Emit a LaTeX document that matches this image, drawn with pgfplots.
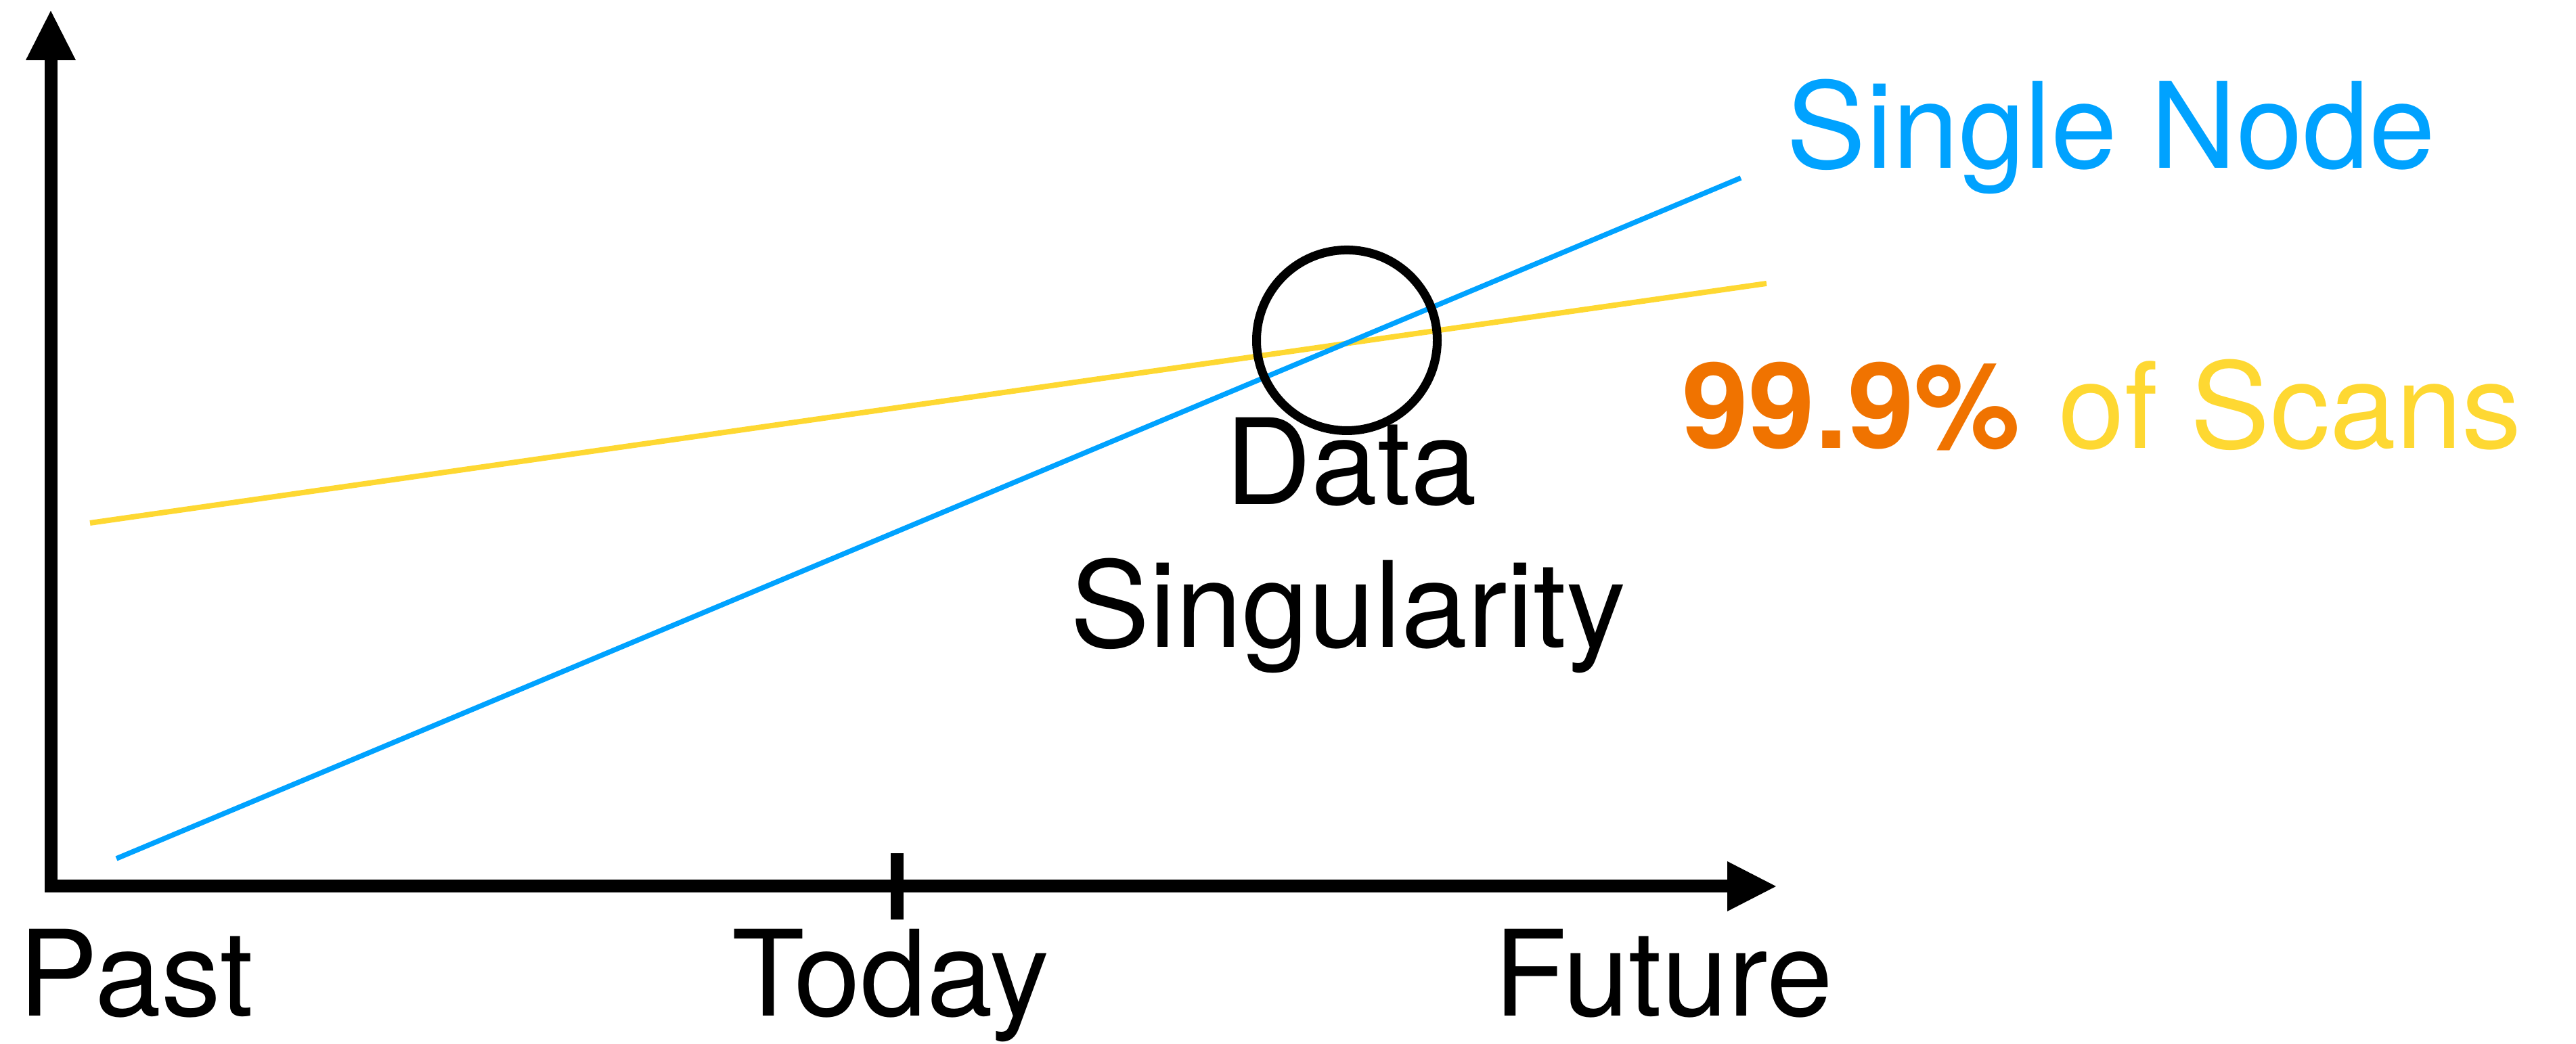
\documentclass[border=0pt]{standalone}
\usepackage{pgfplots}
\pgfplotsset{compat=1.18}
\usepackage{fontspec}
\setmainfont{TeX Gyre Heros}
\definecolor{nodeblue}{RGB}{0,162,255}
\definecolor{scanyellow}{RGB}{254,216,50}
\definecolor{scanorange}{RGB}{240,115,0}
\begin{document}
\begin{tikzpicture}[lbl/.style={font=\fontsize{17.6pt}{21.1pt}\selectfont, inner sep=0pt, anchor=base}]
\begin{axis}[
  width=380.6pt, height=154.3pt, scale only axis,
  xmin=0, xmax=3806, ymin=0, ymax=1543,
  hide axis, clip=false,
]
\path (axis cs:0,0) rectangle (axis cs:3806,1543);
% axes
\draw[line width=1.9pt, line join=miter] (axis cs:75,1454) -- (axis cs:75,233) -- (axis cs:2552,233);
\fill (axis cs:38,1454) -- (axis cs:112,1454) -- (axis cs:75,1527) -- cycle;
\fill (axis cs:2552,270) -- (axis cs:2552,196) -- (axis cs:2624,233) -- cycle;
\draw[line width=1.9pt] (axis cs:1325,184) -- (axis cs:1325,282);
% series
\addplot[color=scanyellow, line width=0.8pt, line cap=butt] coordinates {(133,770) (2610,1124)};
\addplot[color=nodeblue, line width=0.75pt, line cap=butt] coordinates {(172,274) (2572,1280)};
% circle
\draw[line width=1.3pt] (axis cs:1990,1040) circle[radius=13.35pt];
% labels
\node[lbl] at (axis cs:201,41) {Past};
\node[lbl] at (axis cs:1316,41) {Today};
\node[lbl] at (axis cs:2458,41) {Future};
\node[lbl, text=nodeblue] at (axis cs:3119,1294) {Single Node};
\node[lbl] at (axis cs:3106,880) {{\color{scanorange}\bfseries 99.9\%}\hspace{0.32em}{\color{scanyellow}of Scans}};
\node[lbl] at (axis cs:1996,797) {Data};
\node[lbl] at (axis cs:1992,586) {Singularity};
\end{axis}
\end{tikzpicture}
\end{document}
